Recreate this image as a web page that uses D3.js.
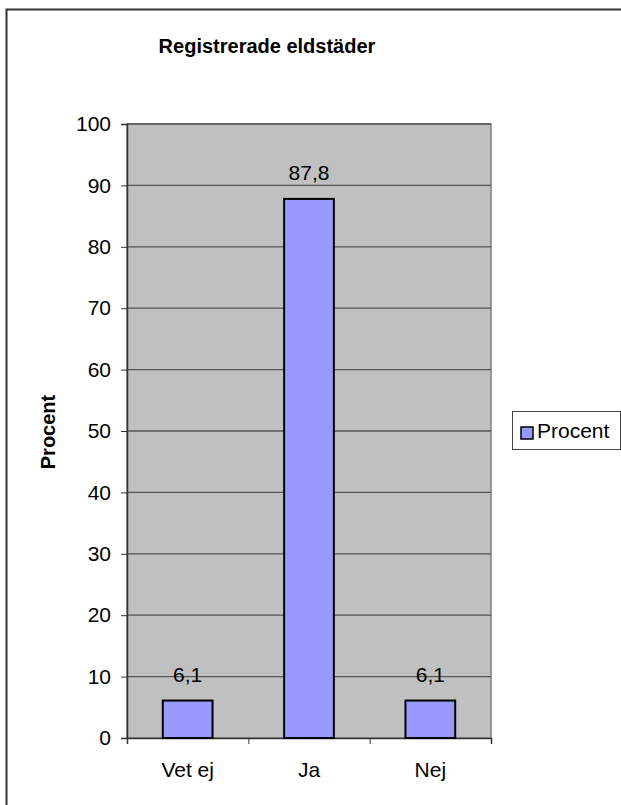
<!DOCTYPE html>
<html>
<head>
<meta charset="utf-8">
<script src="https://cdn.jsdelivr.net/npm/d3@7"></script>
<style>
  body { margin: 0; background: #fff; }
  svg { display: block; font-family: "Liberation Sans", Arial, sans-serif; }
</style>
</head>
<body>
<div id="canvas"></div>
<script>
(function () {
  'use strict';
  const categories = ['Vet ej', 'Ja', 'Nej'];
  const values = [6.1, 87.8, 6.1];
  const valueLabels = ['6,1', '87,8', '6,1'];
  const yTicks = [0, 10, 20, 30, 40, 50, 60, 70, 80, 90, 100];

  const width = 621;
  const height = 805;
  const plot = { left: 127, right: 491, top: 124, bottom: 738 };

  const svg = d3.select('#canvas')
    .append('svg')
    .attr('width', width)
    .attr('height', height);

  // outer chart border (runs off right and bottom edge)
  svg.append('rect')
    .attr('x', 6.5)
    .attr('y', 9.5)
    .attr('width', 700)
    .attr('height', 900)
    .attr('fill', '#fff')
    .attr('stroke', '#333')
    .attr('stroke-width', 2);

  const xScale = d3.scaleBand()
    .domain(categories)
    .range([plot.left, plot.right])
    .paddingInner(0.59)
    .paddingOuter(0.295);

  const yScale = d3.scaleLinear()
    .domain([0, 100])
    .range([plot.bottom, plot.top]);

  // plot area
  svg.append('rect')
    .attr('x', plot.left)
    .attr('y', plot.top)
    .attr('width', plot.right - plot.left)
    .attr('height', plot.bottom - plot.top)
    .attr('fill', '#c0c0c0')
    .attr('stroke', '#808080')
    .attr('stroke-width', 1.5);

  // gridlines
  svg.append('g')
    .selectAll('line')
    .data(yTicks.filter(d => d > 0))
    .enter()
    .append('line')
    .attr('x1', plot.left)
    .attr('x2', plot.right)
    .attr('y1', d => yScale(d))
    .attr('y2', d => yScale(d))
    .attr('stroke', '#555')
    .attr('stroke-width', 1.3);

  // y axis
  const yAxis = d3.axisLeft(yScale)
    .tickValues(yTicks)
    .tickSize(6)
    .tickPadding(10)
    .tickFormat(d3.format('d'));

  svg.append('g')
    .attr('transform', 'translate(' + plot.left + ',0)')
    .call(yAxis)
    .call(g => g.select('.domain').attr('stroke', '#333').attr('stroke-width', 1.5))
    .call(g => g.selectAll('.tick line').attr('stroke', '#333'))
    .call(g => g.selectAll('text').attr('font-size', 21).attr('fill', '#000').attr('font-family', 'Liberation Sans, Arial, sans-serif'));

  // x axis with ticks between categories
  const step = xScale.step();
  const boundaries = d3.range(categories.length + 1).map(i => plot.left + i * step);
  const xAxis = d3.axisBottom(d3.scaleLinear().domain([plot.left, plot.right]).range([plot.left, plot.right]))
    .tickValues(boundaries)
    .tickSize(6)
    .tickFormat('');

  svg.append('g')
    .attr('transform', 'translate(0,' + plot.bottom + ')')
    .call(xAxis)
    .call(g => g.select('.domain').attr('stroke', '#333').attr('stroke-width', 1.5))
    .call(g => g.selectAll('.tick line').attr('stroke', '#333'));

  svg.append('g')
    .selectAll('text')
    .data(categories)
    .enter()
    .append('text')
    .attr('x', d => xScale(d) + xScale.bandwidth() / 2)
    .attr('y', 777)
    .attr('text-anchor', 'middle')
    .attr('font-size', 21)
    .text(d => d);

  // bars
  svg.append('g')
    .selectAll('rect')
    .data(values)
    .enter()
    .append('rect')
    .attr('x', (d, i) => xScale(categories[i]))
    .attr('y', d => yScale(d))
    .attr('width', xScale.bandwidth())
    .attr('height', d => yScale(0) - yScale(d))
    .attr('fill', '#9999ff')
    .attr('stroke', '#000')
    .attr('stroke-width', 2);

  // value labels
  svg.append('g')
    .selectAll('text')
    .data(values)
    .enter()
    .append('text')
    .attr('x', (d, i) => xScale(categories[i]) + xScale.bandwidth() / 2)
    .attr('y', d => yScale(d) - 19)
    .attr('text-anchor', 'middle')
    .attr('font-size', 21)
    .text((d, i) => valueLabels[i]);

  // title
  svg.append('text')
    .attr('x', 267)
    .attr('y', 53)
    .attr('text-anchor', 'middle')
    .attr('font-size', 20)
    .attr('font-weight', 'bold')
    .text('Registrerade eldstäder');

  // y axis title
  svg.append('text')
    .attr('transform', 'translate(55,432) rotate(-90)')
    .attr('text-anchor', 'middle')
    .attr('font-size', 20)
    .attr('font-weight', 'bold')
    .text('Procent');

  // legend
  const legend = svg.append('g');
  legend.append('rect')
    .attr('x', 512.5)
    .attr('y', 411.5)
    .attr('width', 108)
    .attr('height', 38)
    .attr('fill', '#fff')
    .attr('stroke', '#444')
    .attr('stroke-width', 1);
  legend.append('rect')
    .attr('x', 521)
    .attr('y', 427)
    .attr('width', 12)
    .attr('height', 12)
    .attr('fill', '#9999ff')
    .attr('stroke', '#000')
    .attr('stroke-width', 1.5);
  legend.append('text')
    .attr('x', 537)
    .attr('y', 438)
    .attr('font-size', 21)
    .text('Procent');
}());
</script>
</body>
</html>
